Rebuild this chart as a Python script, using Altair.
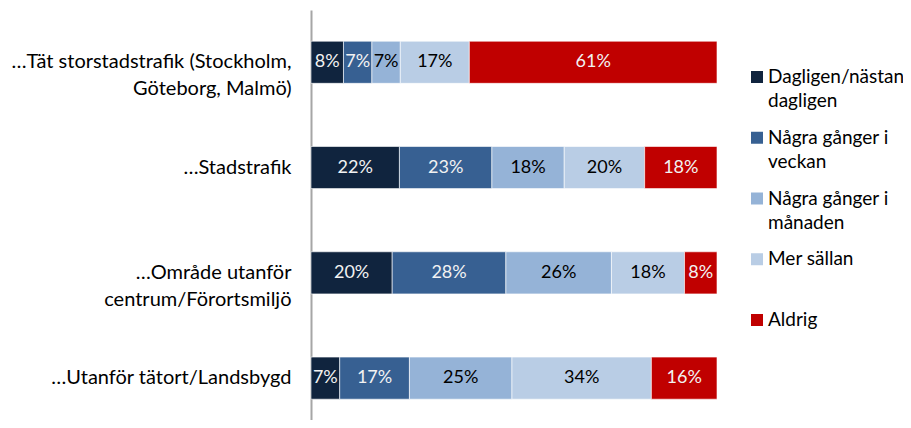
import altair as alt
import pandas as pd

categories = [
    "…Tät storstadstrafik (Stockholm,\nGöteborg, Malmö)",
    "…Stadstrafik",
    "…Område utanför\ncentrum/Förortsmiljö",
    "…Utanför tätort/Landsbygd",
]
series = [
    "Dagligen/nästan dagligen",
    "Några gånger i veckan",
    "Några gånger i månaden",
    "Mer sällan",
    "Aldrig",
]
legend_line1 = ["Dagligen/nästan", "Några gånger i", "Några gånger i", "Mer sällan", "Aldrig"]
legend_line2 = ["dagligen", "veckan", "månaden", "", ""]
colors = ["#10243E", "#376092", "#95B3D7", "#B9CDE5", "#C00000"]

daily = [8, 22, 20, 7]
weekly = [7, 23, 28, 17]
monthly = [7, 18, 26, 25]
rarely = [17, 20, 18, 34]
never = [61, 18, 8, 16]

values = [daily, weekly, monthly, rarely, never]
rows = []
for si, (s, vals) in enumerate(zip(series, values)):
    for ci, c in enumerate(categories):
        rows.append({"cat": c, "series": s, "order": si, "value": vals[ci]})
df = pd.DataFrame(rows)

leg_df = pd.DataFrame({"series": series, "l1": legend_line1, "l2": legend_line2})

FONT = "Lato"

color_scale = alt.Scale(domain=series, range=colors)
y_enc = alt.Y(
    "cat:N",
    sort=categories,
    scale=alt.Scale(paddingInner=0.6, paddingOuter=0.247, align=0.6),
    axis=alt.Axis(
        title=None,
        ticks=False,
        grid=False,
        domainColor="#A6A6A6",
        domainWidth=2,
        labelFont=FONT,
        labelFontSize=20,
        labelColor="#000000",
        labelPadding=20,
        labelLimit=400,
        labelLineHeight=27,
        labelExpr="split(datum.label, '\\n')",
    ),
)

base = alt.Chart(df).transform_stack(
    stack="value",
    groupby=["cat"],
    as_=["v0", "v1"],
    offset="normalize",
    sort=[alt.SortField("order", order="ascending")],
).transform_calculate(mid="(datum.v0 + datum.v1) / 2", pct="datum.value + '%'")

bars = base.mark_bar(stroke="#FFFFFF", strokeWidth=0.6).encode(
    y=y_enc,
    x=alt.X("v0:Q", scale=alt.Scale(domain=[0, 1], nice=False), axis=None),
    x2="v1:Q",
    color=alt.Color("series:N", scale=color_scale, legend=None),
)

labels = base.mark_text(font=FONT, fontSize=18, baseline="middle", align="center").encode(
    y=alt.Y("cat:N", sort=categories),
    x=alt.X("mid:Q"),
    text="pct:N",
    color=alt.condition(
        "datum.series == 'Några gånger i månaden' || datum.series == 'Mer sällan'",
        alt.value("#000000"),
        alt.value("#F2F2F2"),
    ),
)

main = alt.layer(bars, labels)

leg_y = alt.Y("series:N", sort=series, scale=alt.Scale(type="point", range=[67, 310], padding=0), axis=None)
leg_base = alt.Chart(leg_df)
leg_sq = leg_base.mark_square(size=144, opacity=1).encode(
    x=alt.value(446),
    y=leg_y,
    color=alt.Color("series:N", scale=color_scale, legend=None),
)
leg_t1 = leg_base.mark_text(font=FONT, fontSize=19, align="left", baseline="middle", color="#000000").encode(
    x=alt.value(457), y=leg_y, text="l1:N"
)
leg_t2 = leg_base.mark_text(font=FONT, fontSize=19, align="left", baseline="middle", color="#000000", dy=24).encode(
    x=alt.value(457), y=leg_y, text="l2:N"
)
legend = alt.layer(leg_sq, leg_t1, leg_t2)

chart = alt.layer(main, legend).resolve_scale(y="independent").properties(
    width=406,
    height=410,
    autosize=alt.AutoSizeParams(type="none"),
    padding={"left": 303, "top": 2, "right": 186, "bottom": 0},
).configure_view(stroke=None)

chart.save("out.html", embed_options={"renderer": "svg", "actions": False})
